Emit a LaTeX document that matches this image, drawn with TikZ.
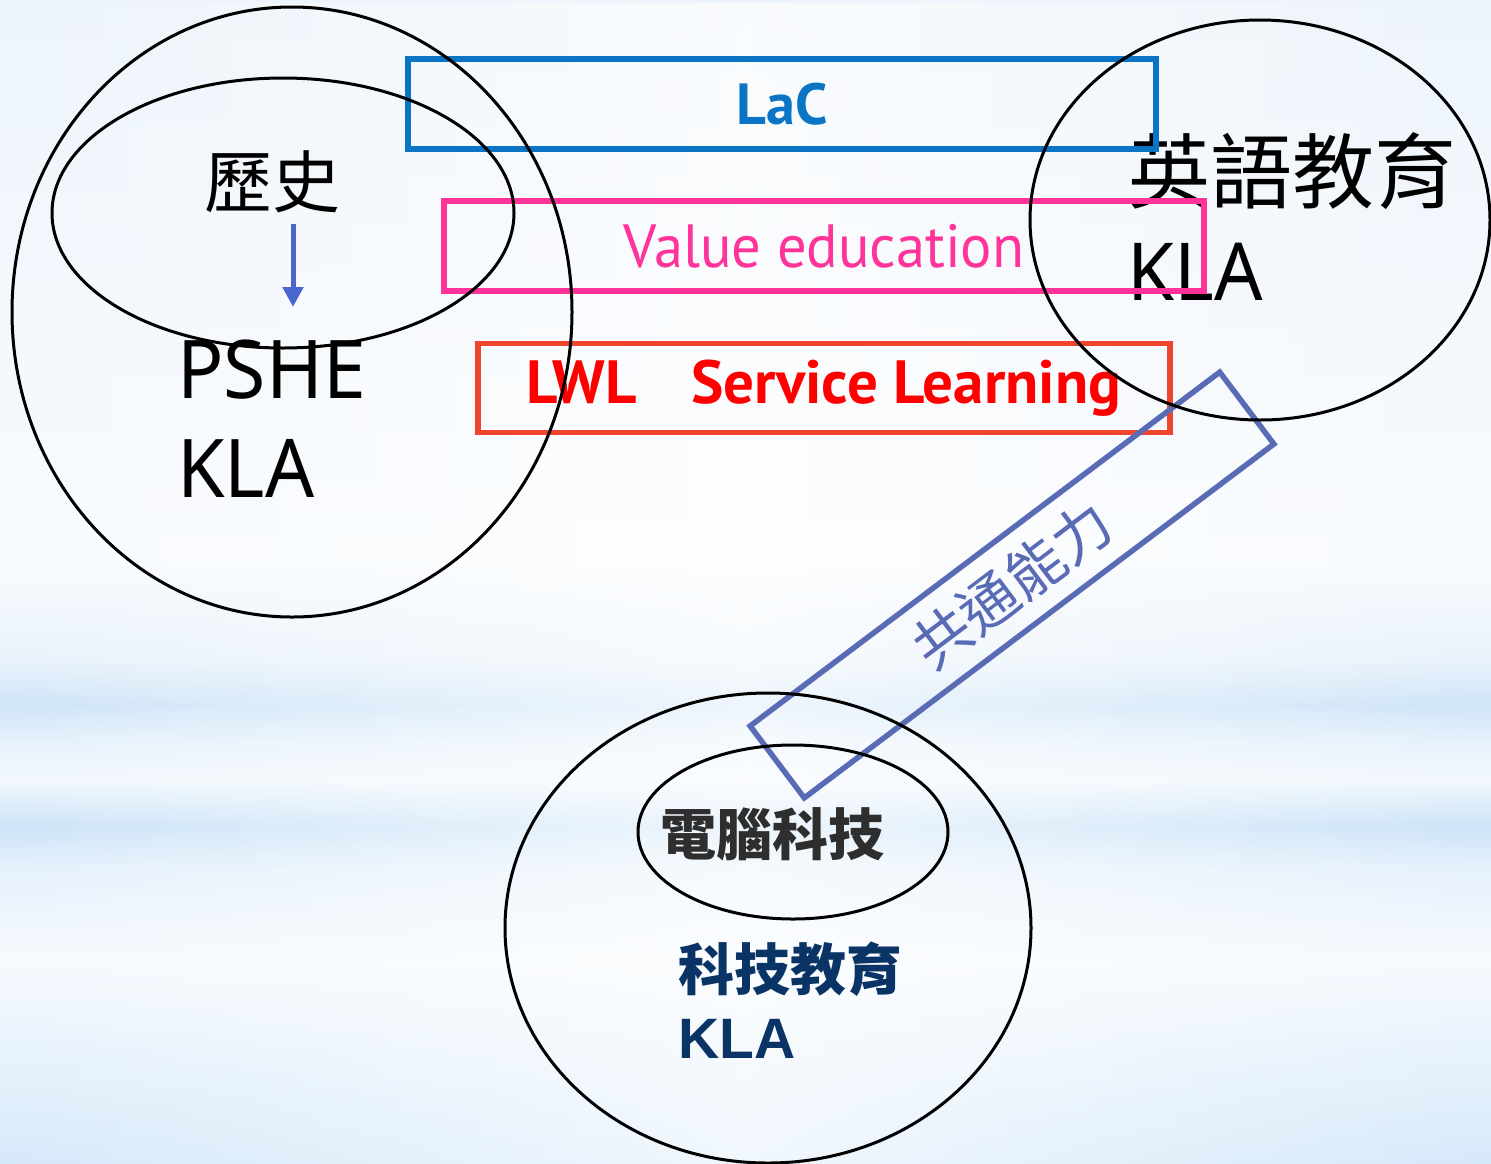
\documentclass[tikz,border=0pt]{standalone}
\usepackage{fontspec}
\setmainfont{PT Sans}
\newfontfamily\cjk{Noto Sans CJK TC}
\newfontfamily\labfont{PT Sans}
\newfontfamily\valfont[FakeStretch=0.96]{PT Sans}
\newfontfamily\klafont[FakeStretch=0.95]{Noto Sans}
\newfontfamily\boldsans{Liberation Sans}
\usetikzlibrary{shapes.geometric,fadings,arrows.meta}

\definecolor{lacblue}{HTML}{0B74C4}
\definecolor{valpink}{HTML}{FF3399}
\definecolor{lwlframe}{HTML}{EE452C}
\definecolor{lwltext}{HTML}{FF0000}
\definecolor{skillblue}{HTML}{5A6BB5}
\definecolor{arrowblue}{HTML}{4A66CC}
\definecolor{darkgray}{HTML}{2E2E2E}
\definecolor{navy}{HTML}{0B3466}

\definecolor{skyA}{HTML}{D6E9FA}
\definecolor{skyB}{HTML}{F6FAFE}
\definecolor{skyC}{HTML}{E6F1FC}
\definecolor{skyD}{HTML}{CDE4F8}
\definecolor{skyE}{HTML}{F2F8FD}
\definecolor{skyF}{HTML}{E8F2FC}
\definecolor{skyG}{HTML}{CFE5F8}
\definecolor{skyH}{HTML}{E9F2FB}
\definecolor{skyI}{HTML}{F8FBFE}
\definecolor{skyJ}{HTML}{F3F8FD}
\definecolor{skyK}{HTML}{EDF4FB}

% soft sky background with horizontal bands
\pgfdeclareverticalshading{skybands}{100bp}{
  color(0bp)=(skyA);
  color(25bp)=(skyA);
  color(33.7bp)=(skyB);
  color(37.6bp)=(skyC);
  color(39.5bp)=(skyD);
  color(41.5bp)=(skyE);
  color(43bp)=(skyF);
  color(44.7bp)=(skyG);
  color(46.6bp)=(skyH);
  color(50.9bp)=(skyI);
  color(62bp)=(skyJ);
  color(75bp)=(skyK);
  color(100bp)=(skyK)}
\tikzfading[name=centreglow, left color=transparent!100, right color=transparent!100, middle color=transparent!35]

\tikzset{
  ring/.style={draw=black, line width=3pt, ellipse, inner sep=0pt},
  frame/.style={line width=5.5pt, inner sep=0pt},
  cjktext/.style={inner sep=0pt, anchor=center},
}

\begin{document}
\begin{tikzpicture}[x=1pt,y=-1pt]
  \useasboundingbox (0,0) rectangle (1491,1163);
  \fill[shading=skybands] (0,0) rectangle (1491,1163);
  \fill[white, path fading=centreglow] (0,0) rectangle (1491,1163);

  % texts that sit under the frames
  \node[cjktext] (hist) at (272,182) {\cjk\fontsize{68}{68}\selectfont 歷史};
  \node[inner sep=0pt, anchor=base west] (pshe) at (177,398) {\klafont\fontsize{81}{81}\selectfont PSHE};
  \node[inner sep=0pt, anchor=base west] (pshekla) at (177,497) {\klafont\fontsize{81}{81}\selectfont KLA};
  \node[cjktext] (eng) at (1292,171) {\cjk\fontsize{82}{82}\selectfont 英語教育};
  \node[inner sep=0pt, anchor=base west] (engkla) at (1127,300) {\klafont\fontsize{80}{80}\selectfont KLA};
  \node[cjktext] (comp) at (772,834) {\cjk\bfseries\color{darkgray}\fontsize{56}{56}\selectfont 電腦科技};
  \node[cjktext] (tech) at (790,969) {\cjk\bfseries\color{navy}\fontsize{56}{56}\selectfont 科技教育};
  \node[inner sep=0pt, anchor=base west] (techkla) at (678,1058) {\boldsans\bfseries\color{navy}\fontsize{57}{57}\selectfont KLA};

  % arrow from the subject to its KLA
  \coordinate (a1) at (293,224);
  \coordinate (a2) at (293,307);
  \draw[arrowblue, line width=5pt, -{Triangle[length=20pt,width=20pt]}] (a1) -- (a2);

  % cross-curricular frames
  \node[frame, draw=lacblue, minimum width=748pt, minimum height=90pt] (lac) at (782,104)
    {\labfont\bfseries\color{lacblue}\fontsize{58}{58}\selectfont LaC};
  \node[frame, draw=valpink, minimum width=760pt, minimum height=90pt] (val) at (824,246)
    {\valfont\color{valpink}\fontsize{61}{61}\selectfont Value education};
  \node[frame, draw=lwlframe, minimum width=692pt, minimum height=89pt] (lwl) at (824,388)
    {\labfont\bfseries\color{lwltext}\fontsize{61}{61}\selectfont LWL\hspace{0.9em}Service Learning};
  \node[frame, draw=skillblue, minimum width=588pt, minimum height=90pt, rotate=37] (skills) at (1012,585)
    {\cjk\color{skillblue}\fontsize{58}{58}\selectfont 共通能力};

  % key learning area circles
  \node[ring, minimum width=560pt, minimum height=610pt] (pshering) at (292,312) {};
  \node[ring, minimum width=462pt, minimum height=270pt] (histring) at (283,213) {};
  \node[ring, minimum width=460pt, minimum height=400pt] (engring) at (1260,220) {};
  \node[ring, minimum width=526pt, minimum height=470pt] (techring) at (768,928) {};
  \node[ring, minimum width=310pt, minimum height=174pt] (compring) at (793,832) {};
\end{tikzpicture}
\end{document}
